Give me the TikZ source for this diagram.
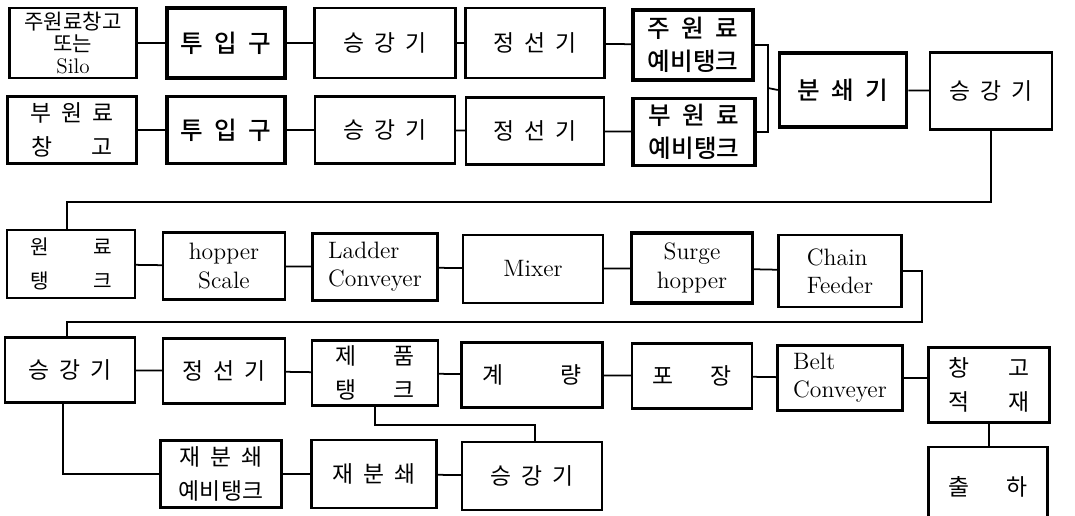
\documentclass[tikz,border=0pt]{standalone}
\usepackage{fontspec}
\newfontfamily\kr[WordSpace=2,BoldFont={Noto Sans CJK KR Medium}]{Noto Sans CJK KR}
\usepackage{tikz}

\tikzset{
  box/.style={draw, line width=1.4pt, inner sep=2pt, align=center, font=\kr\fontsize{13}{19}\selectfont},
  heavy/.style={box, line width=2pt, font=\kr\bfseries\fontsize{14}{19}\selectfont},
  eng/.style={box, font=\fontsize{13.5}{16}\selectfont},
  boxsize/.style 2 args={minimum width=#1*0.02cm, minimum height=#2*0.02cm},
  link/.style={line width=1pt}
}

\begin{document}
\begin{tikzpicture}[x=0.02cm,y=-0.02cm]
  \useasboundingbox (0,0) rectangle (1075,516);
  % main material line
  \node[box, boxsize={127}{70}, inner sep=0pt, font=\kr\fontsize{12}{12.5}\selectfont] (A1) at (73,43) {주원료창고\\또는\\{\rmfamily\fontsize{12}{12.5}\selectfont Silo}};
  \node[heavy, boxsize={118}{70}] (A2) at (226,43) {투 입 구};
  \node[box, boxsize={141}{70}] (A3) at (385,43) {승 강 기};
  \node[box, boxsize={139}{70}] (A4) at (535,43) {정 선 기};
  \node[heavy, boxsize={120}{70}] (A5) at (693,45) {주 원 료\\예비탱크};
  % sub material line
  \node[box, boxsize={129}{67}] (B1) at (72,130) {부 원 료\\창\hspace{1.7em}고};
  \node[heavy, boxsize={118}{67}] (B2) at (226,130) {투 입 구};
  \node[box, boxsize={140}{67}] (B3) at (385,130) {승 강 기};
  \node[box, boxsize={138}{67}] (B4) at (535,131) {정 선 기};
  \node[heavy, boxsize={122}{67}] (B5) at (694,132) {부 원 료\\예비탱크};
  \node[heavy, boxsize={127}{74}] (C1) at (843,90) {분 쇄 기};
  \node[box, boxsize={122}{77}] (C2) at (991,91) {승 강 기};
  % mixing
  \node[box, boxsize={128}{68}, font=\kr\fontsize{11.5}{19}\selectfont] (D1) at (71,264) {원\hspace{2.2em}료\\탱\hspace{2.2em}크};
  \node[eng, boxsize={122}{67}] (D2) at (224,266) {hopper\\Scale};
  \node[eng, boxsize={125}{67}, align=left] (D3) at (375,267) {Ladder\\Conveyer};
  \node[eng, boxsize={140}{68}] (D4) at (533,269) {Mixer};
  \node[eng, boxsize={121}{70}, line width=1.8pt] (D5) at (692,268) {Surge\\hopper};
  \node[eng, boxsize={123}{72}, align=left] (D6) at (840,271) {Chain\\Feeder};
  % product line
  \node[box, boxsize={130}{65}] (E1) at (70,370) {승 강 기};
  \node[box, boxsize={122}{65}] (E2) at (224,371) {정 선 기};
  \node[box, boxsize={126}{65}] (E3) at (375,373) {제\hspace{1.6em}품\\탱\hspace{1.6em}크};
  \node[box, boxsize={141}{65}] (E4) at (532,375) {계\hspace{2.5em}량};
  \node[box, boxsize={120}{65}] (E5) at (692,376) {포\hspace{1.6em}장};
  \node[eng, boxsize={125}{65}, align=left] (E6) at (840,378) {Belt\\Conveyer};
  \node[box, boxsize={121}{75}] (E7) at (989,385) {창\hspace{1.7em}고\\적\hspace{1.7em}재};
  % regrinding
  \node[box, boxsize={121}{67}] (F1) at (221,474) {재 분 쇄\\예비탱크};
  \node[box, boxsize={125}{68}] (F2) at (374,474) {재 분 쇄};
  \node[box, boxsize={140}{68}] (F3) at (532,476) {승 강 기};
  \node[box, boxsize={119}{80}] (F4) at (988,487) {출\hspace{1.6em}하};

  \coordinate (bus) at (768,88);
  \coordinate (r1) at (67,202);
  \coordinate (r2) at (922,322);
  \coordinate (r3) at (67,322);
  \coordinate (r4) at (63,466);
  \coordinate (r5) at (535,425);

  \draw[link] (A1) -- (A2);
  \draw[link] (A2) -- (A3);
  \draw[link] (A3) -- (A4);
  \draw[link] (A4) -- (A5);
  \draw[link] (B1) -- (B2);
  \draw[link] (B2) -- (B3);
  \draw[link] (B3) -- (B4);
  \draw[link] (B4) -- (B5);
  \draw[link] (A5.east) -| (bus) |- (B5.east);
  \draw[link] (bus) -- (C1.west);
  \draw[link] (C1) -- (C2);
  \draw[link] (C2.south) |- (r1) -- (r1 |- D1.north);
  \draw[link] (D1) -- (D2);
  \draw[link] (D2) -- (D3);
  \draw[link] (D3) -- (D4);
  \draw[link] (D4) -- (D5);
  \draw[link] (D5) -- (D6);
  \draw[link] (D6.east) -| (r2) -- (r3) -- (r3 |- E1.north);
  \draw[link] (E1) -- (E2);
  \draw[link] (E2) -- (E3);
  \draw[link] (E3) -- (E4);
  \draw[link] (E4) -- (E5);
  \draw[link] (E5) -- (E6);
  \draw[link] (E6.east) -- (E6.east -| E7.west);
  \draw[link] (E7.south) -- (E7.south |- F4.north);
  \draw[link] (E1.south -| r4) |- (F1.west);
  \draw[link] (F1) -- (F2);
  \draw[link] (F2) -- (F3);
  \draw[link] (E3.south) |- (r5) -- (r5 |- F3.north);
\end{tikzpicture}
\end{document}
